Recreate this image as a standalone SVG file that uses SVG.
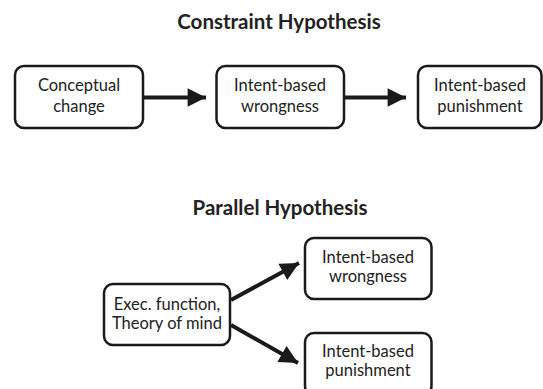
<svg xmlns="http://www.w3.org/2000/svg" width="543" height="389" viewBox="0 0 543 389">
<style>
.box{fill:#fff;stroke:#1a1a1a;stroke-width:2.5}
.t{font-family:Lato,"Open Sans","Liberation Sans",sans-serif;font-size:16.5px;fill:#222;text-anchor:middle}
.h{font-family:Lato,"Open Sans","Liberation Sans",sans-serif;font-size:20.5px;font-weight:bold;fill:#222;text-anchor:middle}
.c{stroke:#1a1a1a;stroke-width:4;fill:none}
</style>
<defs>
<marker id="ah" viewBox="0 0 10 10" refX="10" refY="5" markerWidth="4.8" markerHeight="4.6" orient="auto" markerUnits="strokeWidth">
<path d="M0,0 L10,5 L0,10 z" fill="#1a1a1a"/>
</marker>
</defs>
<rect width="543" height="389" fill="#fff"/>
<text class="h" x="279" y="28.5">Constraint Hypothesis</text>
<text class="h" x="280" y="215">Parallel Hypothesis</text>
<g id="c1"><rect class="box" x="15" y="66" width="128" height="62" rx="9"/><text class="t" x="79" y="91">Conceptual</text><text class="t" x="79" y="111.5">change</text></g>
<g id="w1"><rect class="box" x="216.5" y="66" width="127.5" height="62" rx="9"/><text class="t" x="280" y="91">Intent-based</text><text class="t" x="280" y="111.5">wrongness</text></g>
<g id="p1"><rect class="box" x="418" y="66" width="123.5" height="62" rx="9"/><text class="t" x="480" y="91">Intent-based</text><text class="t" x="480" y="111.5">punishment</text></g>
<g id="e2"><rect class="box" x="104" y="284" width="126" height="61" rx="9"/><text class="t" x="167" y="310">Exec. function,</text><text class="t" x="167" y="329">Theory of mind</text></g>
<g id="w2"><rect class="box" x="305" y="238" width="126.5" height="61" rx="9"/><text class="t" x="368" y="263">Intent-based</text><text class="t" x="368" y="282">wrongness</text></g>
<g id="p2"><rect class="box" x="305" y="333" width="126.5" height="62" rx="9"/><text class="t" x="368" y="357">Intent-based</text><text class="t" x="368" y="376">punishment</text></g>
<g id="connectors">
<line class="c" x1="144" y1="97.5" x2="206" y2="97.5" marker-end="url(#ah)"/>
<line class="c" x1="345" y1="97.5" x2="406" y2="97.5" marker-end="url(#ah)"/>
<line class="c" x1="231" y1="300" x2="299" y2="263" marker-end="url(#ah)"/>
<line class="c" x1="231" y1="325" x2="298" y2="363" marker-end="url(#ah)"/>
</g>
</svg>
